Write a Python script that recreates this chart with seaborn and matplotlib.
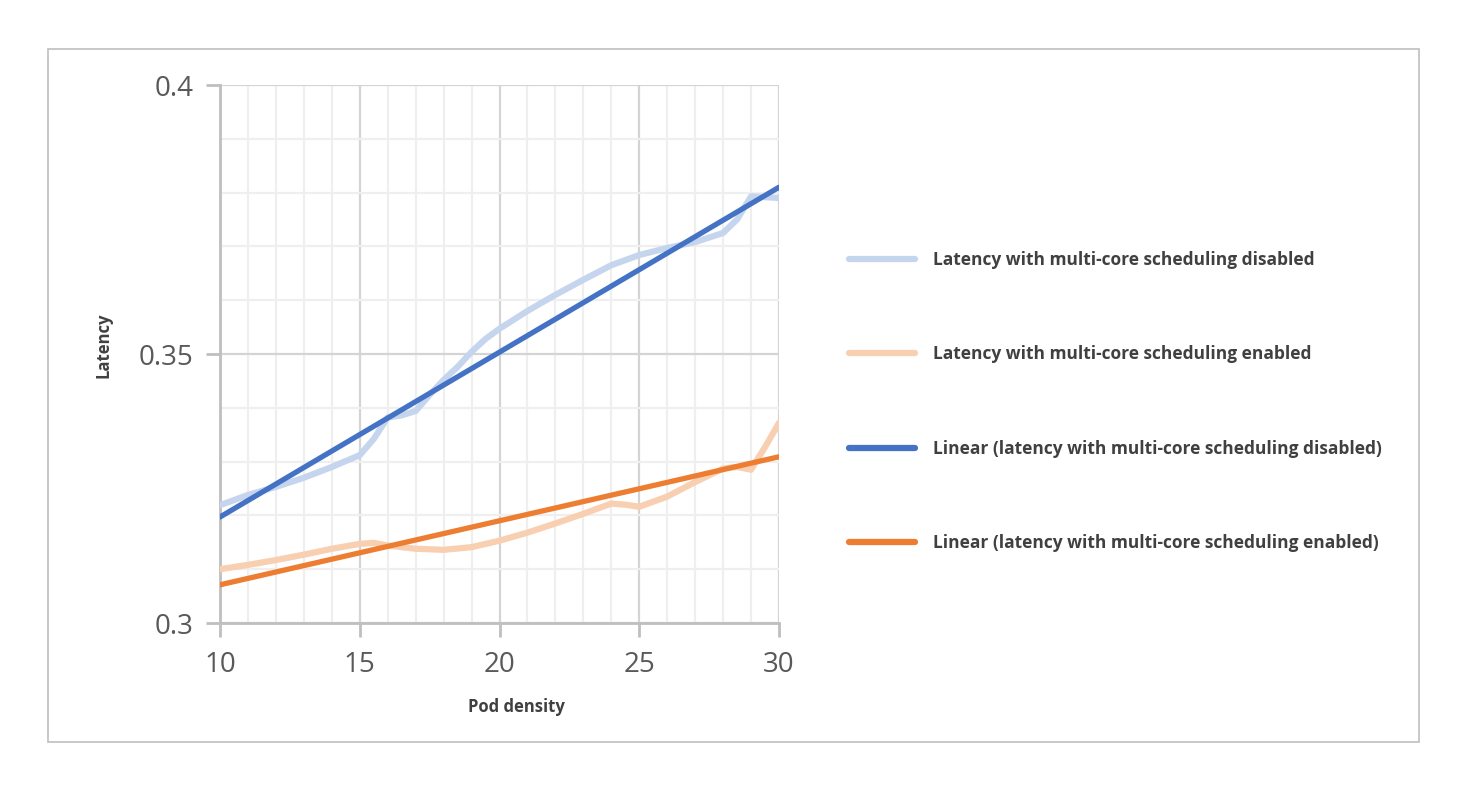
import matplotlib.pyplot as plt
import numpy as np
import pandas as pd
import seaborn as sns
from matplotlib.patches import Rectangle
from matplotlib.lines import Line2D

# latency readings, multi-core scheduling disabled
pod_disabled = [10, 11, 12, 13, 14, 15, 15.5, 16, 16.5, 17, 17.5, 18, 18.5,
                19, 19.5, 20, 21, 22, 23, 24, 25, 26, 27, 28, 28.5, 29, 30]
latency_disabled = [0.3219, 0.3238, 0.3253, 0.3270, 0.3290, 0.3312, 0.3342,
                    0.3382, 0.3386, 0.3394, 0.3424, 0.3452, 0.3476, 0.3504,
                    0.3528, 0.3547, 0.3580, 0.3610, 0.3638, 0.3665, 0.3684,
                    0.3697, 0.3708, 0.3725, 0.3750, 0.3793, 0.3790]

# latency readings, multi-core scheduling enabled
pod_enabled = [10, 11, 12, 13, 14, 15, 15.5, 16, 17, 18, 19, 20, 21, 22, 23,
               24, 24.5, 25, 26, 27, 28, 28.5, 29, 29.5, 30]
latency_enabled = [0.3100, 0.3108, 0.3117, 0.3127, 0.3138, 0.3147, 0.3149,
                   0.3144, 0.3138, 0.3136, 0.3141, 0.3153, 0.3168, 0.3185,
                   0.3203, 0.3222, 0.3220, 0.3216, 0.3235, 0.3262, 0.3287,
                   0.3290, 0.3285, 0.3327, 0.3372]

# linear trend lines as drawn in the chart (values at both ends)
trend_x = [10, 30]
trend_disabled = [0.3197, 0.3810]
trend_enabled = [0.3071, 0.3309]

labels = ["Latency with multi-core scheduling disabled",
          "Latency with multi-core scheduling enabled",
          "Linear (latency with multi-core scheduling disabled)",
          "Linear (latency with multi-core scheduling enabled)"]

x_ticks = [10, 15, 20, 25, 30]
y_ticks = [0.3, 0.35, 0.4]
y_tick_labels = ["0.3", "0.35", "0.4"]

blue = "#4472C4"
orange = "#ED7D31"
light_blue = "#C6D5EE"
light_orange = "#F8CFB0"

sns.set_style("white")
plt.rcParams["font.family"] = ["Open Sans", "DejaVu Sans"]

fig = plt.figure(figsize=(14.67, 7.92), dpi=100)
ax = fig.add_axes([220 / 1467, 1 - 623 / 792, 559 / 1467, 538 / 792])

sns.lineplot(x=pod_disabled, y=latency_disabled, ax=ax, color=light_blue,
             linewidth=4.5, solid_capstyle="round", zorder=3)
sns.lineplot(x=pod_enabled, y=latency_enabled, ax=ax, color=light_orange,
             linewidth=4.5, solid_capstyle="round", zorder=3)
sns.lineplot(x=trend_x, y=trend_disabled, ax=ax, color=blue, linewidth=3.8,
             zorder=4)
sns.lineplot(x=trend_x, y=trend_enabled, ax=ax, color=orange, linewidth=3.8,
             zorder=4)

ax.set_xlim(10, 30)
ax.set_ylim(0.3, 0.4)
ax.set_xticks(x_ticks)
ax.set_xticks(np.arange(10, 31, 1), minor=True)
ax.set_yticks(y_ticks)
ax.set_yticklabels(y_tick_labels)
ax.set_yticks(np.arange(0.3, 0.4001, 0.01), minor=True)

ax.grid(which="major", color="#D4D4D4", linewidth=1.6, zorder=1)
ax.grid(which="minor", color="#EFEFEF", linewidth=1.6, zorder=0)
ax.set_axisbelow(True)

for side in ["top", "right"]:
    ax.spines[side].set_visible(False)
for side in ["left", "bottom"]:
    ax.spines[side].set_color("#BFBFBF")
    ax.spines[side].set_linewidth(2)

ax.tick_params(which="major", length=10, width=2, color="#BFBFBF",
               labelsize=20, labelcolor="#595959", direction="out",
               left=True, bottom=True)
ax.tick_params(axis="x", pad=10)
ax.tick_params(axis="y", pad=9)
ax.tick_params(which="minor", length=0)

ax.set_xlabel("Pod density", fontsize=12, fontweight="bold", color="#404040")
ax.set_ylabel("Latency", fontsize=12, fontweight="bold", color="#404040")
ax.xaxis.set_label_coords(0.531, -0.139)
ax.yaxis.set_label_coords(-0.192, 0.517)

handles = [Line2D([0], [0], color=light_blue, linewidth=4.5, solid_capstyle="round"),
           Line2D([0], [0], color=light_orange, linewidth=4.5, solid_capstyle="round"),
           Line2D([0], [0], color=blue, linewidth=4.5, solid_capstyle="round"),
           Line2D([0], [0], color=orange, linewidth=4.5, solid_capstyle="round")]
leg = fig.legend(handles, labels, loc="center left",
                 bbox_to_anchor=(833 / 1467, 1 - 401.5 / 792), frameon=False,
                 prop={"size": 12.5, "weight": "bold"}, labelspacing=4.4,
                 handlelength=3.85, handletextpad=1.0)
for t in leg.get_texts():
    t.set_color("#404040")

fig.patches.append(Rectangle((48 / 1467, 1 - 742 / 792), 1371 / 1467, 693 / 792,
                             transform=fig.transFigure, fill=False,
                             edgecolor="#BFBFBF", linewidth=1.2))

fig.savefig("out.png", dpi=100, facecolor="white")
